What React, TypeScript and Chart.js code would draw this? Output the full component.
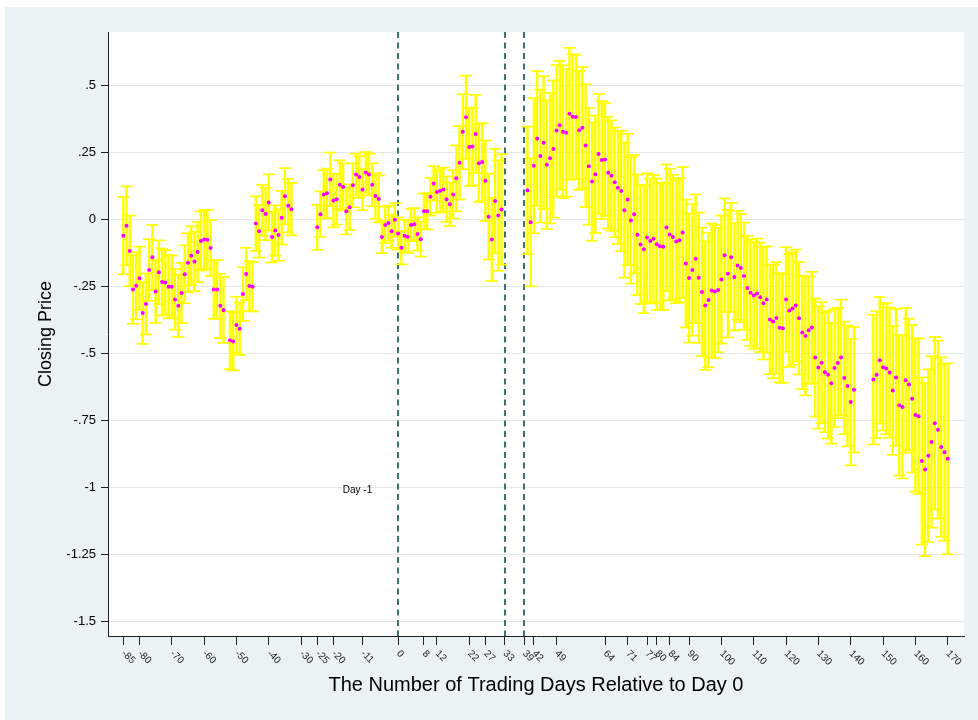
import React, { useEffect, useRef } from 'react';
import { Chart, registerables } from 'chart.js';

Chart.register(...registerables);

const FONT = '"Liberation Sans", Arial, Helvetica, sans-serif';

// ---- Segment 1 (days -85 .. -33) ----
const days1 = [-85, -84, -83, -82, -81, -80, -79, -78, -77, -76, -75, -74, -73, -72, -71, -70, -69, -68, -67, -66, -65, -64, -63, -62, -61, -60, -59, -58, -57, -56, -55, -54, -52, -51, -50, -49, -48, -47, -46, -45, -44, -43, -42, -41, -40, -39, -38, -37, -36, -35, -34, -33];
const mean1 = [-0.061, -0.024, -0.118, -0.262, -0.248, -0.220, -0.350, -0.316, -0.189, -0.142, -0.269, -0.198, -0.234, -0.236, -0.252, -0.252, -0.299, -0.323, -0.275, -0.205, -0.162, -0.136, -0.157, -0.122, -0.081, -0.075, -0.076, -0.107, -0.262, -0.262, -0.323, -0.338, -0.451, -0.456, -0.394, -0.408, -0.279, -0.204, -0.249, -0.252, -0.016, -0.045, 0.034, 0.020, 0.063, -0.066, -0.042, -0.059, 0.006, 0.086, 0.051, 0.038];
const half1 = [0.144, 0.147, 0.132, 0.128, 0.125, 0.118, 0.115, 0.114, 0.115, 0.121, 0.118, 0.119, 0.125, 0.121, 0.118, 0.117, 0.113, 0.116, 0.112, 0.108, 0.110, 0.110, 0.111, 0.112, 0.110, 0.109, 0.111, 0.104, 0.109, 0.110, 0.120, 0.123, 0.108, 0.108, 0.105, 0.098, 0.100, 0.098, 0.093, 0.092, 0.102, 0.098, 0.095, 0.098, 0.105, 0.095, 0.094, 0.096, 0.100, 0.105, 0.100, 0.098];

// ---- Segment 2 (days -25 .. 32) ----
const days2 = [-25, -24, -23, -22, -21, -20, -19, -18, -17, -16, -15, -14, -13, -12, -11, -10, -9, -8, -7, -6, -5, -4, -3, -2, -1, 0, 1, 2, 3, 4, 5, 6, 7, 8, 9, 10, 11, 12, 13, 14, 15, 16, 17, 18, 19, 20, 21, 22, 23, 24, 25, 26, 27, 28, 29, 30, 31, 32];
const mean2 = [-0.030, 0.019, 0.093, 0.097, 0.149, 0.070, 0.075, 0.129, 0.121, 0.030, 0.045, 0.127, 0.167, 0.158, 0.111, 0.175, 0.167, 0.129, 0.087, 0.076, -0.066, -0.021, -0.014, -0.045, -0.002, -0.053, -0.106, -0.061, -0.065, -0.021, -0.018, -0.055, -0.074, 0.030, 0.030, 0.084, 0.134, 0.102, 0.107, 0.111, 0.075, 0.056, 0.093, 0.153, 0.211, 0.327, 0.381, 0.270, 0.272, 0.318, 0.209, 0.214, 0.144, 0.010, -0.075, 0.068, 0.014, 0.037];
const half2 = [0.084, 0.085, 0.090, 0.092, 0.100, 0.100, 0.095, 0.091, 0.088, 0.086, 0.085, 0.082, 0.078, 0.078, 0.077, 0.076, 0.078, 0.080, 0.085, 0.088, 0.060, 0.068, 0.065, 0.061, 0.062, 0.060, 0.062, 0.060, 0.060, 0.060, 0.060, 0.062, 0.065, 0.066, 0.068, 0.070, 0.065, 0.078, 0.080, 0.082, 0.085, 0.081, 0.090, 0.123, 0.137, 0.140, 0.155, 0.146, 0.145, 0.146, 0.145, 0.145, 0.150, 0.160, 0.155, 0.195, 0.206, 0.206];

// ---- Segment 3 (days 40 .. 141) ----
const days3 = [40, 41, 42, 43, 44, 45, 46, 47, 48, 49, 50, 51, 52, 53, 54, 55, 56, 57, 58, 59, 60, 61, 62, 63, 64, 65, 66, 67, 68, 69, 70, 71, 72, 73, 74, 75, 76, 77, 78, 79, 80, 81, 82, 83, 84, 85, 86, 87, 88, 89, 90, 91, 92, 93, 94, 95, 96, 97, 98, 99, 100, 101, 102, 103, 104, 105, 106, 107, 108, 109, 110, 111, 112, 113, 114, 115, 116, 117, 118, 119, 120, 121, 122, 123, 124, 125, 126, 127, 128, 129, 130, 131, 132, 133, 134, 135, 136, 137, 138, 139, 140, 141];
const mean3 = [0.108, -0.011, 0.200, 0.302, 0.236, 0.286, 0.204, 0.228, 0.262, 0.331, 0.351, 0.327, 0.323, 0.394, 0.383, 0.382, 0.332, 0.342, 0.275, 0.198, 0.141, 0.168, 0.244, 0.221, 0.223, 0.174, 0.163, 0.138, 0.118, 0.106, 0.034, 0.074, -0.004, 0.019, -0.058, -0.094, -0.112, -0.068, -0.081, -0.073, -0.093, -0.101, -0.102, -0.031, -0.057, -0.066, -0.083, -0.078, -0.049, -0.165, -0.219, -0.189, -0.147, -0.218, -0.271, -0.322, -0.301, -0.266, -0.269, -0.264, -0.225, -0.134, -0.203, -0.142, -0.215, -0.172, -0.182, -0.212, -0.256, -0.274, -0.284, -0.277, -0.291, -0.313, -0.299, -0.374, -0.381, -0.368, -0.405, -0.407, -0.299, -0.340, -0.333, -0.322, -0.369, -0.422, -0.435, -0.414, -0.404, -0.516, -0.553, -0.535, -0.571, -0.580, -0.612, -0.555, -0.536, -0.516, -0.592, -0.622, -0.682, -0.636];
const half3 = [0.238, 0.239, 0.252, 0.251, 0.248, 0.248, 0.240, 0.243, 0.256, 0.245, 0.240, 0.248, 0.238, 0.246, 0.233, 0.232, 0.222, 0.226, 0.229, 0.218, 0.221, 0.219, 0.224, 0.220, 0.210, 0.208, 0.206, 0.205, 0.210, 0.225, 0.252, 0.245, 0.236, 0.221, 0.225, 0.222, 0.238, 0.239, 0.233, 0.238, 0.245, 0.238, 0.236, 0.236, 0.246, 0.232, 0.230, 0.232, 0.244, 0.239, 0.241, 0.245, 0.240, 0.243, 0.240, 0.240, 0.251, 0.250, 0.248, 0.232, 0.239, 0.212, 0.238, 0.203, 0.200, 0.203, 0.202, 0.200, 0.194, 0.198, 0.199, 0.205, 0.204, 0.210, 0.198, 0.204, 0.212, 0.208, 0.204, 0.203, 0.195, 0.211, 0.210, 0.209, 0.210, 0.212, 0.222, 0.200, 0.208, 0.220, 0.228, 0.226, 0.223, 0.238, 0.225, 0.220, 0.206, 0.216, 0.210, 0.225, 0.236, 0.234];

// ---- Segment 4 (days 147 .. 170) ----
const days4 = [147, 148, 149, 150, 151, 152, 153, 154, 155, 156, 157, 158, 159, 160, 161, 162, 163, 164, 165, 166, 167, 168, 169, 170];
const mean4 = [-0.598, -0.580, -0.526, -0.552, -0.557, -0.572, -0.639, -0.590, -0.694, -0.700, -0.601, -0.616, -0.670, -0.730, -0.735, -0.902, -0.934, -0.882, -0.831, -0.761, -0.785, -0.850, -0.869, -0.894];
const half4 = [0.242, 0.237, 0.236, 0.236, 0.245, 0.243, 0.240, 0.255, 0.262, 0.267, 0.270, 0.245, 0.275, 0.286, 0.290, 0.312, 0.323, 0.322, 0.320, 0.322, 0.332, 0.335, 0.330, 0.356];

// ---- Axes ----
const xTickValues = [-85, -80, -70, -60, -50, -40, -30, -25, -20, -11, 0, 8, 12, 22, 27, 33, 39, 42, 49, 64, 71, 77, 80, 84, 90, 100, 110, 120, 130, 140, 150, 160, 170];
const xTickLabels = ['-85', '-80', '-70', '-60', '-50', '-40', '-30', '-25', '-20', '-11', '0', '8', '12', '22', '27', '33', '39', '42', '49', '64', '71', '77', '80', '84', '90', '100', '110', '120', '130', '140', '150', '160', '170'];
const yTickValues = [-1.5, -1.25, -1, -0.75, -0.5, -0.25, 0, 0.25, 0.5];
const yTickLabels = ['-1.5', '-1.25', '-1', '-.75', '-.5', '-.25', '0', '.25', '.5'];
const eventDays = [0, 33, 39];
const dayLabelText = 'Day -1';
const dayLabelX = -8;
const dayLabelY = -1.01;

const xTitle = 'The Number of Trading Days Relative to Day 0';
const yTitle = 'Closing Price';

const allDays = [...days1, ...days2, ...days3, ...days4];
const allMeans = [...mean1, ...mean2, ...mean3, ...mean4];
const allHalf = [...half1, ...half2, ...half3, ...half4];

const meanPoints = allDays.map((d, i) => ({ x: d, y: allMeans[i] }));
const ciBars = allDays.map((d, i) => ({ x: d, y: [allMeans[i] - allHalf[i], allMeans[i] + allHalf[i]] }));
const upperCaps = allDays.map((d, i) => ({ x: d, y: allMeans[i] + allHalf[i] }));
const lowerCaps = allDays.map((d, i) => ({ x: d, y: allMeans[i] - allHalf[i] }));

const YELLOW = '#ffff00';
const MAGENTA = '#ff00ff';

const plotBgPlugin = {
  id: 'plotBg',
  beforeDraw(chart: any) {
    const { ctx, chartArea } = chart;
    ctx.save();
    ctx.fillStyle = '#ffffff';
    ctx.fillRect(chartArea.left, chartArea.top, chartArea.right - chartArea.left, chartArea.bottom - chartArea.top);
    ctx.restore();
  },
};

const eventLinesPlugin = {
  id: 'eventLines',
  beforeDatasetsDraw(chart: any) {
    const { ctx, chartArea, scales } = chart;
    ctx.save();
    ctx.strokeStyle = '#3a7370';
    ctx.lineWidth = 2;
    ctx.setLineDash([6, 4.5]);
    eventDays.forEach((d) => {
      const px = Math.round(scales.x.getPixelForValue(d));
      ctx.beginPath();
      ctx.moveTo(px, chartArea.top);
      ctx.lineTo(px, chartArea.bottom);
      ctx.stroke();
    });
    ctx.restore();
  },
};

const labelsPlugin = {
  id: 'rotLabels',
  afterDraw(chart: any) {
    const { ctx, chartArea, scales } = chart;
    ctx.save();
    ctx.font = `10px ${FONT}`;
    ctx.fillStyle = '#222222';
    ctx.textAlign = 'left';
    ctx.textBaseline = 'middle';
    xTickValues.forEach((v, i) => {
      const px = scales.x.getPixelForValue(v);
      ctx.save();
      ctx.translate(px, chartArea.bottom + 16);
      ctx.rotate(Math.PI / 4);
      ctx.fillText(xTickLabels[i], 0, 0);
      ctx.restore();
    });
    ctx.font = `10px ${FONT}`;
    ctx.fillStyle = '#000000';
    ctx.textAlign = 'right';
    ctx.textBaseline = 'middle';
    ctx.fillText(dayLabelText, scales.x.getPixelForValue(dayLabelX), scales.y.getPixelForValue(dayLabelY));
    ctx.restore();
  },
};

export default function App() {
  const ref = useRef<HTMLCanvasElement | null>(null);

  useEffect(() => {
    const canvas = ref.current;
    if (!canvas) return;
    const chart = new Chart(canvas, {
      type: 'scatter',
      data: {
        datasets: [
          {
            type: 'scatter',
            label: 'mean',
            data: meanPoints,
            pointRadius: 2,
            pointBackgroundColor: MAGENTA,
            pointBorderWidth: 0,
            borderColor: MAGENTA,
            order: 0,
          },
          {
            type: 'scatter',
            label: 'upper',
            data: upperCaps,
            pointStyle: 'line',
            pointRadius: 6,
            pointBorderWidth: 1.7,
            pointBorderColor: YELLOW,
            borderColor: YELLOW,
            order: 1,
          },
          {
            type: 'scatter',
            label: 'lower',
            data: lowerCaps,
            pointStyle: 'line',
            pointRadius: 6,
            pointBorderWidth: 1.7,
            pointBorderColor: YELLOW,
            borderColor: YELLOW,
            order: 1,
          },
          {
            type: 'bar',
            label: 'ci',
            data: ciBars as any,
            backgroundColor: YELLOW,
            borderWidth: 0,
            barThickness: 1.8,
            order: 2,
          } as any,
        ],
      },
      options: {
        responsive: false,
        animation: false,
        devicePixelRatio: 1,
        events: [],
        layout: { padding: { left: 0, right: 14, top: 25, bottom: 0 } },
        plugins: { legend: { display: false }, tooltip: { enabled: false } },
        scales: {
          x: {
            type: 'linear',
            min: -89.73,
            max: 175.04,
            offset: false,
            afterBuildTicks: (axis: any) => {
              axis.ticks = xTickValues.map((v) => ({ value: v }));
            },
            afterFit: (axis: any) => {
              axis.height = 84;
            },
            ticks: { display: false, autoSkip: false },
            grid: {
              offset: false,
              drawOnChartArea: false,
              drawTicks: true,
              tickLength: 9,
              tickColor: '#222222',
              tickWidth: 1,
            },
            border: { display: true, color: '#222222', width: 1 },
            title: {
              display: true,
              text: xTitle,
              color: '#000000',
              font: { family: FONT, size: 20 },
              padding: { top: 0, bottom: 23 },
            },
          },
          y: {
            type: 'linear',
            min: -1.555,
            max: 0.699,
            afterBuildTicks: (axis: any) => {
              axis.ticks = yTickValues.map((v) => ({ value: v }));
            },
            afterFit: (axis: any) => {
              axis.width = 103;
            },
            ticks: {
              autoSkip: false,
              color: '#000000',
              font: { family: FONT, size: 13 },
              padding: 5,
              callback: (_v: any, i: number) => yTickLabels[i],
            },
            grid: {
              color: '#e1e9ea',
              lineWidth: 1,
              drawTicks: true,
              tickLength: 7,
              tickColor: '#222222',
            },
            border: { display: true, color: '#222222', width: 1 },
            title: {
              display: true,
              text: yTitle,
              color: '#000000',
              font: { family: FONT, size: 18 },
              padding: { top: 30, bottom: 0 },
            },
          },
        },
      },
      plugins: [plotBgPlugin, eventLinesPlugin, labelsPlugin],
    } as any);
    return () => chart.destroy();
  }, []);

  return (
    <div style={{ position: 'fixed', left: 0, top: 0, width: 978, height: 720, background: '#ffffff', overflow: 'hidden' }}>
      <div style={{ position: 'absolute', left: 5, top: 7, width: 973, height: 713, background: '#eaf2f3' }}>
        <canvas ref={ref} width={973} height={713} style={{ display: 'block', width: 973, height: 713 }} />
      </div>
    </div>
  );
}
